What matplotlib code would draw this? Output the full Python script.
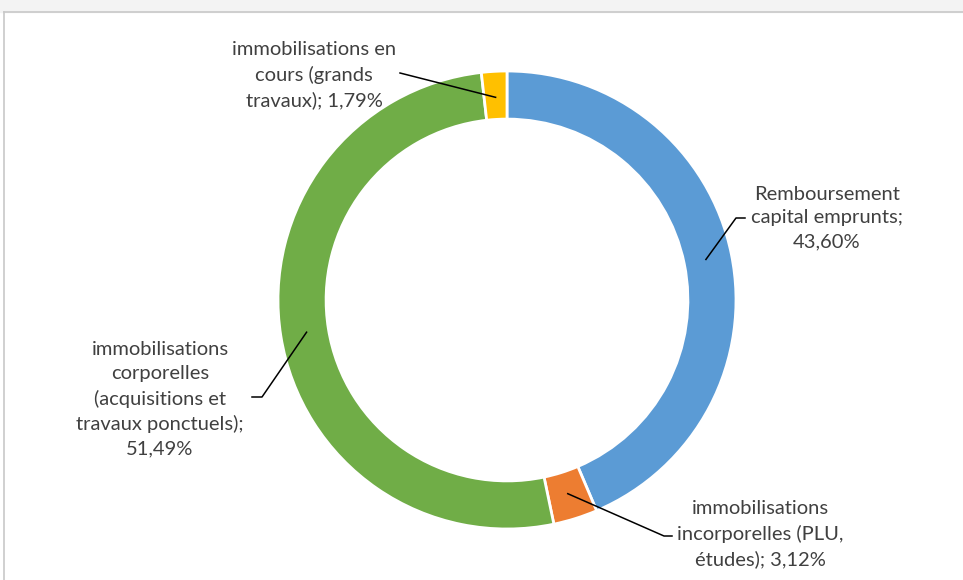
import numpy as np
import matplotlib
matplotlib.use("Agg")
import matplotlib.pyplot as plt

labels = ["Remboursement\ncapital emprunts;\n43,60%",
          "immobilisations\nincorporelles (PLU,\nétudes); 3,12%",
          "immobilisations\ncorporelles\n(acquisitions et\ntravaux ponctuels);\n51,49%",
          "immobilisations en\ncours (grands\ntravaux); 1,79%"]
values = [43.60, 3.12, 51.49, 1.79]
colors = ["#5B9BD5", "#ED7D31", "#70AD47", "#FFC000"]

W, H = 963, 580
fig = plt.figure(figsize=(W / 100, H / 100), dpi=100)
ax = fig.add_axes([0, 0, 1, 1])
ax.set_xlim(0, W)
ax.set_ylim(0, H)
ax.set_aspect("equal")
ax.axis("off")

# frame
ax.fill_between([0, W], H - 12, H, color="#f3f3f3", zorder=0)
ax.plot([4, W], [H - 12, H - 12], color="#c8c8c8", lw=1.2, zorder=1)
ax.plot([4, 4], [0, H - 12], color="#c8c8c8", lw=1.2, zorder=1)

cx, cy, R = 507, H - 300, 229
wedges, _ = ax.pie(values, colors=colors, startangle=90, counterclock=False,
                   center=(cx, cy), radius=R, frame=True,
                   wedgeprops=dict(width=R * 0.21, edgecolor="white", linewidth=2))
ax.set_xlim(0, W)
ax.set_ylim(0, H)
ax.axis("off")

# label placements (text centre, elbow) in image pixel coords
text_pos = [(827, 218), (760, 534), (160, 399), (314, 75)]
elbows = [(745, 218), (672, 536), (252, 397), (400, 73)]
elbow_end = [(736, 218), (664, 536), (262, 397), (400, 73)]

tot = sum(values)
cum = 0
for i, v in enumerate(values):
    mid = 90 - (cum + v / 2) / tot * 360
    cum += v
    a = np.deg2rad(mid)
    r = 203
    px, py = cx + r * np.cos(a), cy + r * np.sin(a)
    ex, ey = elbows[i]
    fx, fy = elbow_end[i]
    ax.plot([px, fx, ex], [py, H - fy, H - ey], color="black", lw=1.1, zorder=5)
    tx, ty = text_pos[i]
    ax.text(tx, H - ty, labels[i], ha="center", va="center", fontsize=14.5,
            family="Lato", color="#404040", linespacing=1.5)

fig.savefig("out.png", dpi=100)
